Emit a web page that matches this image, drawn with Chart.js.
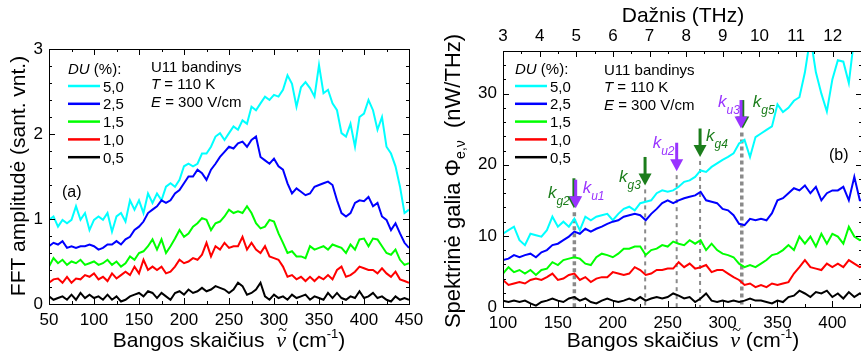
<!DOCTYPE html>
<html>
<head>
<meta charset="utf-8">
<script src="https://cdn.jsdelivr.net/npm/chart.js@4.4.1/dist/chart.umd.min.js"></script>
<style>
  html, body { margin: 0; padding: 0; background: #fff; overflow: hidden; width: 861px; height: 354px; }
  #boxA { position: absolute; left: 0; top: 0; }
  #boxB { position: absolute; left: 430px; top: 0; }
</style>
</head>
<body>
<div id="boxA"><canvas id="chartA" width="430" height="354"></canvas></div>
<div id="boxB"><canvas id="chartB" width="440" height="354"></canvas></div>
<script>
// ---- data: panel (a), FFT amplitude vs wavenumber ----
const waveA = [50,55,60,65,70,75,80,85,90,95,100,105,110,115,120,125,130,135,140,145,
  150,155,160,165,170,175,180,185,190,195,200,205,210,215,220,225,230,235,240,245,
  250,255,260,265,270,275,280,285,290,295,300,305,310,315,320,325,330,335,340,345,
  350,355,360,365,370,375,380,385,390,395,400,405,410,415,420,425,430,435,440,445,450];

const du50A = [0.99,1.03,0.91,0.99,0.95,0.99,1.15,0.99,1.07,0.87, 0.99,1.03,0.99,1.07,0.85,1.03,1.07,0.97,1.22,1.11,
  1.22,1.07,1.30,1.19,1.30,1.22,1.38,1.42,1.38,1.46, 1.62,1.65,1.62,1.65,1.77,1.77,1.85,1.97,2.01,1.93,
  2.01,2.09,2.05,2.16,2.12,2.32,2.28,2.36,2.44,2.40, 2.46,2.44,2.52,2.69,2.59,2.32,2.55,2.61,2.54,2.44,
  2.81,2.48,2.52,2.36,2.28,2.01,1.97,2.12,1.85,2.20, 2.24,2.40,2.28,2.05,2.20,1.85,1.77,1.62,1.38,1.07, 1.11];
const du25A = [0.68,0.72,0.70,0.74,0.66,0.68,0.66,0.68,0.68,0.70, 0.68,0.64,0.66,0.70,0.70,0.74,0.70,0.76,0.79,0.87,
  0.91,0.97,1.07,1.11,1.15,1.22,1.19,1.22,1.30,1.34, 1.42,1.50,1.50,1.58,1.54,1.46,1.58,1.65,1.73,1.79,
  1.85,1.83,1.89,1.91,1.85,1.93,1.97,1.73,1.69,1.65, 1.71,1.62,1.58,1.42,1.30,1.36,1.32,1.28,1.30,1.38,
  1.40,1.42,1.44,1.40,1.22,1.07,1.03,1.07,1.19,1.22, 1.21,1.26,1.15,1.19,1.03,0.99,0.87,0.95,0.83,0.72, 0.66];
const du15A = [0.44,0.54,0.48,0.52,0.46,0.50,0.48,0.52,0.46,0.48, 0.50,0.46,0.48,0.52,0.46,0.50,0.44,0.48,0.56,0.52,
  0.60,0.62,0.68,0.76,0.64,0.76,0.60,0.68,0.77,0.87, 0.79,0.83,0.91,0.95,1.01,0.99,0.87,0.95,0.97,1.03,
  1.11,1.07,1.09,1.07,1.15,1.07,0.95,0.89,0.91,0.99, 0.97,0.83,0.72,0.60,0.62,0.56,0.56,0.54,0.68,0.64,
  0.66,0.68,0.64,0.70,0.68,0.66,0.60,0.70,0.64,0.76, 0.77,0.68,0.77,0.76,0.68,0.60,0.58,0.64,0.52,0.46, 0.48];
const du10A = [0.25,0.29,0.30,0.25,0.32,0.25,0.30,0.29,0.34,0.32, 0.36,0.29,0.32,0.27,0.36,0.30,0.34,0.38,0.34,0.44,
  0.36,0.52,0.40,0.44,0.40,0.44,0.36,0.38,0.44,0.52, 0.48,0.50,0.54,0.52,0.58,0.72,0.56,0.68,0.64,0.72,
  0.66,0.68,0.68,0.79,0.64,0.72,0.64,0.60,0.68,0.56, 0.54,0.52,0.44,0.32,0.34,0.29,0.32,0.27,0.32,0.27,
  0.32,0.29,0.34,0.29,0.40,0.44,0.32,0.34,0.38,0.44, 0.42,0.40,0.40,0.36,0.42,0.36,0.32,0.38,0.29,0.27, 0.25];
const du05A = [0.09,0.05,0.07,0.09,0.05,0.11,0.05,0.13,0.07,0.11, 0.07,0.09,0.05,0.11,0.05,0.09,0.03,0.05,0.09,0.11,
  0.13,0.09,0.15,0.13,0.07,0.13,0.09,0.05,0.13,0.15, 0.11,0.17,0.13,0.15,0.19,0.15,0.17,0.21,0.19,0.17,
  0.13,0.17,0.25,0.21,0.11,0.13,0.17,0.25,0.09,0.05, 0.11,0.07,0.09,0.05,0.11,0.07,0.09,0.11,0.05,0.09,
  0.07,0.05,0.13,0.07,0.13,0.07,0.05,0.09,0.07,0.15, 0.07,0.09,0.13,0.07,0.09,0.05,0.03,0.09,0.05,0.07, 0.05];

// ---- data: panel (b), spectral power vs wavenumber ----
const waveB = [100,105,110,115,120,125,130,135,140,145,150,155,160,165,170,175,180,185,190,195,
  200,205,210,215,220,225,230,235,240,245,250,255,260,265,270,275,280,285,290,295,
  300,305,310,315,320,325,330,335,340,345,350,355,360,365,370,375,380,385,390,395,
  400,405,410,415,420,425,430];

const du50B = [10.3,10.8,11.3,9.4,8.7,10.3,10.1,9.9,10.8,12.7, 11.3,12.0,11.3,12.4,10.8,12.7,12.2,12.7,12.9,13.1,
  12.2,13.1,13.8,14.1,13.6,14.6,14.8,15.0,16.0,16.4, 16.2,16.4,16.9,17.6,17.8,18.3,19.2,19.0,19.7,20.2,
  20.7,21.1,21.6,23.0,23.5,21.1,23.9,24.4,24.9,25.4, 28.5,27.4,28.0,29.0,29.5,33.0,38.0,33.0,30.0,27.5,
  32.0,34.7,34.5,31.5,38.0,38.0,38.0];
const du25B = [6.6,6.8,7.3,7.0,7.3,7.5,7.0,7.7,8.0,8.7, 8.9,9.4,9.9,10.6,10.3,11.0,10.6,11.0,11.3,11.7,
  12.0,12.2,12.7,12.9,13.1,12.9,12.2,13.1,13.8,14.6, 15.0,14.6,15.0,15.3,15.5,15.7,16.2,15.0,14.8,14.6,
  13.8,13.6,12.9,11.7,11.5,12.4,12.2,12.4,12.2,13.2, 15.0,15.3,16.0,16.7,16.4,17.1,16.0,16.9,15.0,16.0,
  16.4,16.4,16.9,15.0,18.3,15.0,15.0];
const du15B = [4.7,5.6,4.9,5.2,4.7,5.2,4.5,5.2,5.4,6.3, 5.9,6.6,6.8,7.0,6.8,6.1,5.9,7.0,7.5,7.3,
  7.0,7.5,8.2,8.2,8.5,8.5,7.3,8.0,8.2,8.7, 8.5,9.2,8.9,8.7,9.4,8.9,9.4,8.0,8.9,8.0,
  7.5,7.3,7.0,6.1,5.6,5.9,5.6,6.1,6.6,7.3, 7.5,8.0,8.7,8.0,9.9,8.9,9.9,8.5,10.3,8.9,
  10.3,9.9,8.9,11.3,9.9,9.4,9.6];
const du10B = [3.8,3.1,3.3,3.5,3.3,3.8,4.0,3.8,4.2,4.7, 3.8,4.0,4.5,4.7,3.8,4.2,3.5,4.0,4.2,4.2,
  4.9,4.7,4.5,4.7,5.6,5.2,4.5,4.7,5.2,5.2, 5.4,5.4,6.3,5.6,6.1,5.4,5.6,5.9,4.9,5.2,
  5.2,4.7,4.2,3.8,3.1,3.3,2.8,3.1,2.8,3.3, 3.1,3.3,3.5,4.7,5.6,6.6,5.6,5.4,5.2,6.1,
  5.6,6.1,5.6,6.6,6.1,5.6,6.0];
const du05B = [0.9,0.7,0.9,0.7,0.9,0.5,0.2,0.7,0.9,1.2, 0.9,0.7,1.2,1.4,0.9,1.2,0.7,0.5,0.9,1.2,
  0.9,0.7,0.9,1.2,0.9,1.4,0.9,1.2,1.4,1.2, 1.4,1.9,1.6,1.2,1.4,0.7,1.2,1.9,0.9,0.7,
  0.9,0.7,0.9,0.7,0.9,1.2,0.9,0.9,0.7,0.5, 0.9,0.7,1.4,1.6,2.3,1.9,1.4,2.1,1.9,2.3,
  1.4,1.9,1.2,2.1,1.4,1.9,1.6];

const legendLabels = ['5,0', '2,5', '1,5', '1,0', '0,5'];
const lineColors = ['#00ffff', '#0000ff', '#00ff00', '#ff0000', '#000000'];

// axis ranges
const xRangeA = [50, 450], yRangeA = [0, 3];
const xRangeB = [100, 427], yRangeB = [0, 36];
const CM_PER_THZ = 33.356;

// mode markers in panel (b): wavenumber and the level where the dashed line starts
const markX = [165, 229.5, 258.2, 279.5, 317.5];
const markFrom = [13.9, 17.1, 19.1, 21.1, 25.1];
// arrows: name, wavenumber, shaft top, tip (nW/THz)
const arrowName = ['g2', 'u1', 'g3', 'u2', 'g4', 'g5', 'u3'];
const arrowX = [164.6, 166.2, 229.4, 258.2, 279.5, 318.4, 316.8];
const arrowTop = [18.1, 17.9, 21.1, 23.1, 25.1, 29.1, 29.1];
const arrowTip = [13.9, 13.9, 17.1, 19.1, 21.1, 25.1, 25.1];

const SANS = '"Liberation Sans", Arial, sans-serif';
const SERIF = '"Liberation Serif", "Times New Roman", serif';
const GREEN = '#1b7d1b';
const PURPLE = '#9933ff';

Chart.defaults.font.family = SANS;
Chart.defaults.color = '#000';

// draw a run of differently styled text pieces; a piece may carry a mark drawn above it
function rich(ctx, x, y, parts, align) {
  let w = 0;
  parts.forEach(p => { ctx.font = p.f; w += ctx.measureText(p.t).width; });
  let cx = align === 'center' ? x - w / 2 : (align === 'right' ? x - w : x);
  ctx.textAlign = 'left';
  ctx.textBaseline = 'alphabetic';
  parts.forEach(p => {
    ctx.font = p.f;
    ctx.fillStyle = p.c || '#000';
    const pw = ctx.measureText(p.t).width;
    ctx.fillText(p.t, cx, y + (p.dy || 0));
    if (p.over) {
      ctx.font = p.overFont;
      ctx.textAlign = 'center';
      ctx.fillText(p.over, cx + pw / 2 + 1.5, y - 12);
      ctx.textAlign = 'left';
    }
    cx += pw;
  });
}

function stepValues(min, max, step) {
  const out = [];
  for (let i = Math.ceil(min / step - 1e-9); i * step <= max + 1e-9; i++) out.push(i * step);
  return out;
}
const isMajor = (v, major) => Math.abs(v / major - Math.round(v / major)) < 1e-6;

// frame + inward ticks
function frameTicks(chart, spec) {
  const { ctx, chartArea: a } = chart;
  ctx.save();
  ctx.strokeStyle = '#000';
  ctx.lineWidth = 1;
  ctx.strokeRect(Math.round(a.left) + 0.5, Math.round(a.top) + 0.5,
    Math.round(a.right - a.left), Math.round(a.bottom - a.top));
  ctx.beginPath();
  spec.forEach(t => {
    const s = chart.scales[t.id];
    stepValues(s.min, s.max, t.minor).forEach(v => {
      const len = isMajor(v, t.major) ? 6 : 3;
      const p = Math.round(s.getPixelForValue(v)) + 0.5;
      t.sides.forEach(side => {
        if (side === 'bottom') { ctx.moveTo(p, a.bottom); ctx.lineTo(p, a.bottom - len); }
        if (side === 'top') { ctx.moveTo(p, a.top); ctx.lineTo(p, a.top + len); }
        if (side === 'left') { ctx.moveTo(a.left, p); ctx.lineTo(a.left + len, p); }
        if (side === 'right') { ctx.moveTo(a.right, p); ctx.lineTo(a.right - len, p); }
      });
    });
  });
  ctx.stroke();
  ctx.restore();
}

function drawLegend(ctx, x0, x1) {
  rich(ctx, x0, 74, [
    { t: 'DU', f: 'italic 15px ' + SANS },
    { t: ' (%):', f: '15px ' + SANS }
  ]);
  legendLabels.forEach((lab, i) => {
    const y = 86 + i * 17.8;
    ctx.strokeStyle = lineColors[i];
    ctx.lineWidth = 2.5;
    ctx.beginPath(); ctx.moveTo(x0, y); ctx.lineTo(x1, y); ctx.stroke();
    rich(ctx, x1 + 3, y + 5.5, [{ t: lab, f: '15px ' + SANS }]);
  });
}

function drawInfo(ctx, x, y0) {
  rich(ctx, x, y0, [{ t: 'U11 bandinys', f: '15px ' + SANS }]);
  rich(ctx, x, y0 + 17.7, [{ t: 'T', f: 'italic 15px ' + SANS }, { t: ' = 110 K', f: '15px ' + SANS }]);
  rich(ctx, x, y0 + 35.4, [{ t: 'E', f: 'italic 15px ' + SANS }, { t: ' = 300 V/cm', f: '15px ' + SANS }]);
}

const bottomTitle = [
  { t: 'Bangos skaičius  ', f: '21px ' + SANS },
  { t: '\u03BD', f: 'italic 22px ' + SERIF, over: '~', overFont: '16px ' + SERIF },
  { t: ' (cm', f: '21px ' + SANS },
  { t: '-1', f: '13px ' + SANS, dy: -9 },
  { t: ')', f: '21px ' + SANS }
];

function makeSets(wave, series) {
  return series.map((vals, i) => ({
    label: legendLabels[i],
    data: wave.map((w, k) => ({ x: w, y: vals[k] })),
    borderColor: lineColors[i],
    borderWidth: 2,
    pointRadius: 0,
    tension: 0,
    fill: false
  })).reverse();
}

const tickFont = { size: 17, family: SANS };
const noGrid = { display: false, drawTicks: false };

// ---------------- panel (a) ----------------
new Chart(document.getElementById('chartA'), {
  type: 'line',
  data: { datasets: makeSets(waveA, [du50A, du25A, du15A, du10A, du05A]) },
  options: {
    responsive: false,
    animation: false,
    layout: { padding: { top: 49, right: 21, left: 0, bottom: 0 } },
    plugins: { legend: { display: false }, tooltip: { enabled: false } },
    scales: {
      x: {
        type: 'linear', min: xRangeA[0], max: xRangeA[1],
        ticks: { stepSize: 50, padding: 6, maxRotation: 0, autoSkip: false, font: tickFont, color: '#000' },
        grid: noGrid, border: { display: false },
        afterFit: s => { s.height = 50; }
      },
      y: {
        min: yRangeA[0], max: yRangeA[1],
        ticks: { stepSize: 1, padding: 6, font: tickFont, color: '#000' },
        grid: noGrid, border: { display: false },
        afterFit: s => { s.width = 49; }
      }
    }
  },
  plugins: [{
    id: 'decorA',
    afterDraw(chart) {
      const ctx = chart.ctx;
      frameTicks(chart, [
        { id: 'x', major: 50, minor: 25, sides: ['bottom', 'top'] },
        { id: 'y', major: 1, minor: 0.2, sides: ['left', 'right'] }
      ]);
      ctx.save();
      drawLegend(ctx, 68, 100);
      drawInfo(ctx, 151, 71.5);
      rich(ctx, 62, 197, [{ t: '(a)', f: '16px ' + SANS }]);
      rich(ctx, 229, 347, bottomTitle, 'center');
      ctx.translate(25, 176);
      ctx.rotate(-Math.PI / 2);
      rich(ctx, 0, 0, [{ t: 'FFT amplitudė (sant. vnt.)', f: '21px ' + SANS }], 'center');
      ctx.restore();
    }
  }]
});

// ---------------- panel (b) ----------------
new Chart(document.getElementById('chartB'), {
  type: 'line',
  data: { datasets: makeSets(waveB, [du50B, du25B, du15B, du10B, du05B]) },
  options: {
    responsive: false,
    animation: false,
    layout: { padding: { top: 0, right: 8, left: 0, bottom: 0 } },
    plugins: { legend: { display: false }, tooltip: { enabled: false } },
    scales: {
      x: {
        type: 'linear', position: 'bottom', min: xRangeB[0], max: xRangeB[1],
        ticks: { stepSize: 50, includeBounds: false, padding: 6, maxRotation: 0, autoSkip: false, font: tickFont, color: '#000' },
        grid: noGrid, border: { display: false },
        afterFit: s => { s.height = 47; }
      },
      x2: {
        type: 'linear', position: 'top',
        min: xRangeB[0] / CM_PER_THZ, max: xRangeB[1] / CM_PER_THZ,
        ticks: { stepSize: 1, includeBounds: false, padding: 4, maxRotation: 0, autoSkip: false, font: tickFont, color: '#000' },
        grid: noGrid, border: { display: false },
        afterFit: s => { s.height = 51; }
      },
      y: {
        min: yRangeB[0], max: yRangeB[1],
        ticks: { stepSize: 10, includeBounds: false, padding: 6, font: tickFont, color: '#000' },
        grid: noGrid, border: { display: false },
        afterFit: s => { s.width = 73; }
      }
    }
  },
  plugins: [{
    id: 'decorB',
    beforeDatasetsDraw(chart) {
      const { ctx, chartArea: a, scales: { x, y } } = chart;
      ctx.save();
      ctx.strokeStyle = '#8a8a8a';
      markX.forEach((m, i) => {
        const heavy = i === 0 || i === 4;
        ctx.lineWidth = heavy ? 3.5 : 2;
        ctx.setLineDash(heavy ? [4, 3] : [4, 4]);
        const px = x.getPixelForValue(m);
        ctx.beginPath();
        ctx.moveTo(px, y.getPixelForValue(markFrom[i]) + 4);
        ctx.lineTo(px, a.bottom);
        ctx.stroke();
      });
      ctx.restore();
    },
    afterDatasetsDraw(chart) {
      const { ctx, scales: { x, y } } = chart;
      // label offsets (px) of "k" from the shaft x and the shaft top
      const labDx = [-26, 7, -26, -24, 6, 10, -23];
      const labDy = [20, 13, 25, 5, 12, 7, 7];
      ctx.save();
      arrowName.forEach((nm, i) => {
        const col = nm[0] === 'g' ? GREEN : PURPLE;
        const px = x.getPixelForValue(arrowX[i]);
        const yt = y.getPixelForValue(arrowTop[i]);
        const yp = y.getPixelForValue(arrowTip[i]);
        ctx.strokeStyle = col; ctx.fillStyle = col; ctx.lineWidth = 3;
        ctx.beginPath(); ctx.moveTo(px, yt); ctx.lineTo(px, yp - 11); ctx.stroke();
        ctx.beginPath();
        ctx.moveTo(px - 6.5, yp - 12); ctx.lineTo(px + 6.5, yp - 12); ctx.lineTo(px, yp);
        ctx.closePath(); ctx.fill();
        rich(ctx, px + labDx[i], yt + labDy[i], [
          { t: 'k', f: 'italic 17px ' + SANS, c: col },
          { t: nm, f: 'italic 12px ' + SANS, c: col, dy: 7 }
        ]);
      });
      ctx.restore();
    },
    afterDraw(chart) {
      const ctx = chart.ctx;
      frameTicks(chart, [
        { id: 'x', major: 50, minor: 25, sides: ['bottom'] },
        { id: 'x2', major: 1, minor: 0.5, sides: ['top'] },
        { id: 'y', major: 10, minor: 2, sides: ['left', 'right'] }
      ]);
      ctx.save();
      drawLegend(ctx, 85, 117);
      drawInfo(ctx, 174, 74.5);
      rich(ctx, 399, 160, [{ t: '(b)', f: '16px ' + SANS }]);
      rich(ctx, 253, 347, bottomTitle, 'center');
      rich(ctx, 253, 22, [{ t: 'Dažnis (THz)', f: '21px ' + SANS }], 'center');
      ctx.translate(30, 181);
      ctx.rotate(-Math.PI / 2);
      rich(ctx, 0, 0, [
        { t: 'Spektrinė galia \u03A6', f: '22px ' + SANS },
        { t: 'e,\u03BD', f: '14px ' + SANS, dy: 5 },
        { t: '  (nW/THz)', f: '22px ' + SANS }
      ], 'center');
      ctx.restore();
    }
  }]
});
</script>
</body>
</html>
